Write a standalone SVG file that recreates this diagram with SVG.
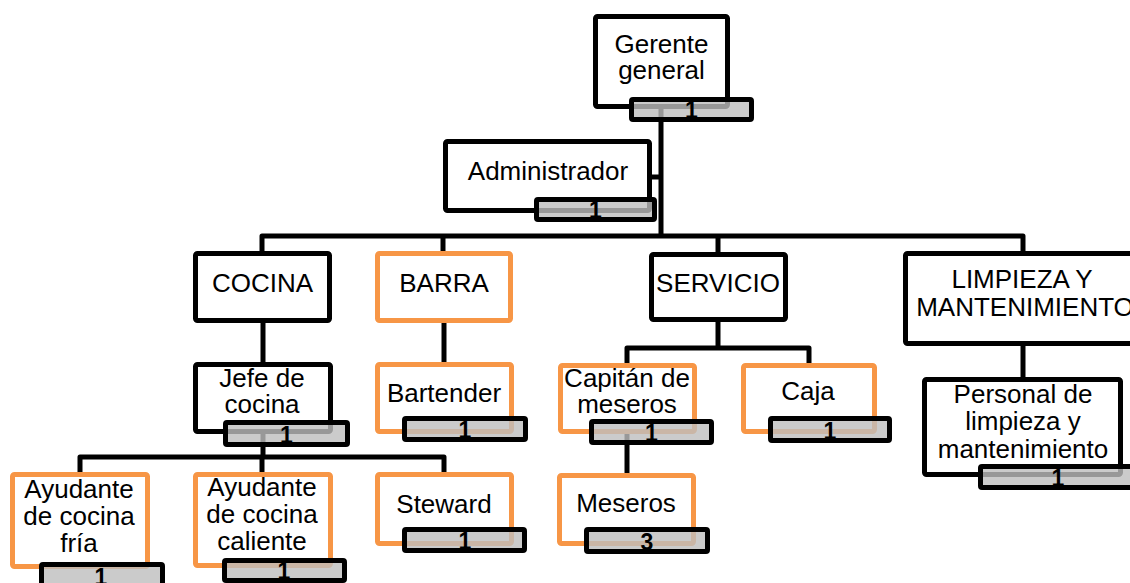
<svg xmlns="http://www.w3.org/2000/svg" width="1130" height="583" viewBox="0 0 1130 583">
  <style>
    .box { fill: #ffffff; stroke: #000000; stroke-width: 5; }
    .box.orange { stroke: #f79646; }
    .count { fill: #bebebe; fill-opacity: 0.8; stroke: #000000; stroke-width: 5; }
    .lbl { font-family: "Liberation Sans", Arial, sans-serif; font-size: 26px; fill: #000000; text-anchor: middle; }
    .num { font-family: "Liberation Sans", Arial, sans-serif; font-size: 23px; font-weight: bold; fill: #000000; text-anchor: middle; }
    .link { fill: none; stroke: #000000; stroke-width: 5; stroke-linejoin: round; }
  </style>
  <rect width="1130" height="583" fill="#ffffff"/>

  <!-- connectors -->
  <g id="connectors" class="link">
    <path d="M661,108 V237"/>
    <path d="M650,177 H661"/>
    <path d="M262,252 V236 H1023 V252"/>
    <path d="M443,236 V252"/>
    <path d="M718,236 V253"/>
    <path d="M263,322 V363"/>
    <path d="M444,322 V363"/>
    <path d="M718,321 V348"/>
    <path d="M627,364 V348 H809 V364"/>
    <path d="M627,433 V474"/>
    <path d="M1023,345 V378"/>
    <path d="M263,433 V457"/>
    <path d="M80,473 V457 H444 V473"/>
    <path d="M262,457 V473"/>
  </g>

  <g id="gerente-general">
    <rect class="box" x="595.5" y="16.5" width="132" height="90" rx="2"/>
    <text class="lbl" x="661.5" y="53">Gerente</text>
    <text class="lbl" x="661.5" y="79">general</text>
    <rect class="count" x="631.5" y="99.5" width="120" height="20" rx="1.5"/>
    <text class="num" x="691.5" y="118">1</text>
  </g>

  <g id="administrador">
    <rect class="box" x="445.5" y="141.5" width="204" height="69" rx="2"/>
    <text class="lbl" x="548" y="180">Administrador</text>
    <rect class="count" x="536.5" y="199.5" width="118" height="20" rx="1.5"/>
    <text class="num" x="595.5" y="218">1</text>
  </g>

  <g id="cocina">
    <rect class="box" x="195.5" y="253.5" width="134" height="67" rx="2"/>
    <text class="lbl" x="262.5" y="292">COCINA</text>
  </g>

  <g id="barra">
    <rect class="box orange" x="377.5" y="253.5" width="133" height="67" rx="2"/>
    <text class="lbl" x="444" y="292">BARRA</text>
  </g>

  <g id="servicio">
    <rect class="box" x="651.5" y="254.5" width="134" height="65" rx="2"/>
    <text class="lbl" x="718" y="292">SERVICIO</text>
  </g>

  <g id="limpieza-mantenimiento">
    <rect class="box" x="905.5" y="253.5" width="240" height="90" rx="2"/>
    <text class="lbl" x="1022" y="288">LIMPIEZA Y</text>
    <text class="lbl" x="1025" y="316">MANTENIMIENTO</text>
  </g>

  <g id="jefe-cocina">
    <rect class="box" x="195.5" y="364.5" width="135" height="67" rx="2"/>
    <text class="lbl" x="262" y="387">Jefe de</text>
    <text class="lbl" x="262" y="413">cocina</text>
    <rect class="count" x="225.5" y="422.5" width="122" height="22" rx="1.5"/>
    <text class="num" x="286.5" y="443">1</text>
  </g>

  <g id="bartender">
    <rect class="box orange" x="377.5" y="364.5" width="134" height="67" rx="2"/>
    <text class="lbl" x="444" y="402">Bartender</text>
    <rect class="count" x="404.5" y="418.5" width="121" height="21" rx="1.5"/>
    <text class="num" x="465" y="438">1</text>
  </g>

  <g id="capitan-meseros">
    <rect class="box orange" x="560.5" y="365.5" width="134" height="66" rx="2"/>
    <text class="lbl" x="627" y="387">Capitán de</text>
    <text class="lbl" x="627" y="413">meseros</text>
    <rect class="count" x="591.5" y="421.5" width="120" height="21" rx="1.5"/>
    <text class="num" x="651.5" y="441">1</text>
  </g>

  <g id="caja">
    <rect class="box orange" x="743.5" y="365.5" width="131" height="66" rx="2"/>
    <text class="lbl" x="808" y="400">Caja</text>
    <rect class="count" x="770.5" y="418.5" width="119" height="22" rx="1.5"/>
    <text class="num" x="830" y="439">1</text>
  </g>

  <g id="meseros">
    <rect class="box orange" x="559.5" y="475.5" width="134" height="68" rx="2"/>
    <text class="lbl" x="626" y="512">Meseros</text>
    <rect class="count" x="586.5" y="529.5" width="121" height="22" rx="1.5"/>
    <text class="num" x="647" y="550">3</text>
  </g>

  <g id="personal-limpieza">
    <rect class="box" x="924.5" y="379.5" width="196" height="95" rx="2"/>
    <text class="lbl" x="1023" y="403">Personal de</text>
    <text class="lbl" x="1023" y="430">limpieza y</text>
    <text class="lbl" x="1023" y="458">mantenimiento</text>
    <rect class="count" x="980.5" y="466.5" width="155" height="21" rx="1.5"/>
    <text class="num" x="1058" y="486">1</text>
  </g>

  <g id="ayudante-fria">
    <rect class="box orange" x="12.5" y="474.5" width="135" height="92" rx="2"/>
    <text class="lbl" x="79" y="498">Ayudante</text>
    <text class="lbl" x="79" y="525">de cocina</text>
    <text class="lbl" x="79" y="552">fría</text>
    <rect class="count" x="41.5" y="564.5" width="121" height="21" rx="1.5"/>
    <text class="num" x="101" y="585">1</text>
  </g>

  <g id="ayudante-caliente">
    <rect class="box orange" x="195.5" y="474.5" width="135" height="91" rx="2"/>
    <text class="lbl" x="262" y="496">Ayudante</text>
    <text class="lbl" x="262" y="523">de cocina</text>
    <text class="lbl" x="262" y="550">caliente</text>
    <rect class="count" x="224.5" y="560.5" width="120" height="20" rx="1.5"/>
    <text class="num" x="284" y="579">1</text>
  </g>

  <g id="steward">
    <rect class="box orange" x="377.5" y="474.5" width="134" height="69" rx="2"/>
    <text class="lbl" x="444" y="513">Steward</text>
    <rect class="count" x="404.5" y="529.5" width="120" height="21" rx="1.5"/>
    <text class="num" x="465" y="549">1</text>
  </g>
</svg>
